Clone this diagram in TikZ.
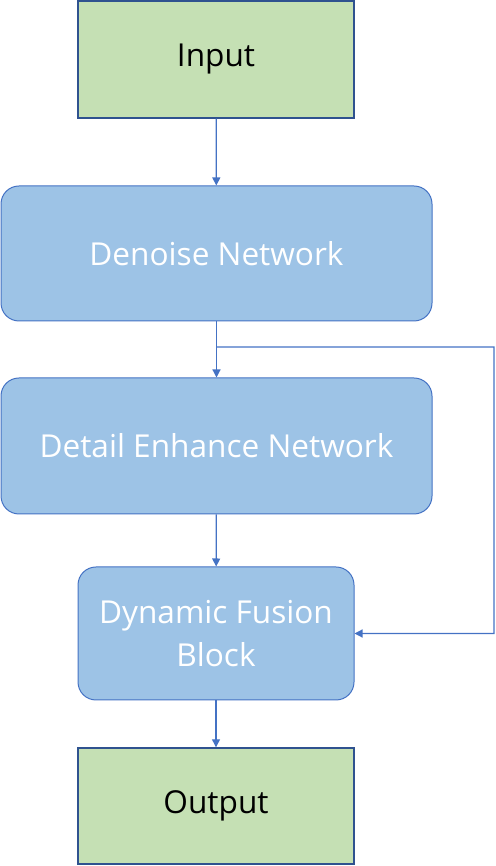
\documentclass[tikz,border=0pt]{standalone}
\usepackage{fontspec}
\setmainfont{Open Sans}
\usetikzlibrary{arrows.meta,calc}
\definecolor{iofill}{HTML}{C5E0B4}
\definecolor{iodraw}{HTML}{2F528F}
\definecolor{netfill}{HTML}{9DC3E6}
\definecolor{netdraw}{HTML}{4472C4}
\tikzset{
  iobox/.style={rectangle,draw=iodraw,fill=iofill,line width=0.7pt,text=black,align=center},
  netbox/.style={rectangle,rounded corners=9pt,draw=netdraw,fill=netfill,line width=0.5pt,text=white,align=center},
  flow/.style={draw=netdraw,line width=0.6pt,-{Triangle[length=4pt,width=4pt]}}
}

\begin{document}
\begin{tikzpicture}[x=0.5pt,y=0.5pt,every node/.style={font=\fontsize{15.8}{21.5}\selectfont}]
  \useasboundingbox (0,0) rectangle (496,866);
  \node[iobox,minimum width=138pt,minimum height=58.5pt] (in) at (216,806.5) {Input};
  \node[netbox,minimum width=215.5pt,minimum height=67.5pt] (den) at (216.5,612.5) {Denoise Network};
  \node[netbox,minimum width=215.5pt,minimum height=68pt] (det) at (216.5,420) {Detail Enhance Network};
  \node[netbox,minimum width=138pt,minimum height=66.5pt] (fus) at (216,232.5) {Dynamic Fusion\\Block};
  \node[iobox,minimum width=138pt,minimum height=58pt] (out) at (216,60) {Output};
  \draw[flow] (in) -- (den);
  \draw[flow] (den) -- (det);
  \draw[flow] (det) -- (fus);
  \draw[flow] (fus) -- (out);
  % skip path round the enhance network
  \coordinate (split) at ($(den.south)!0.456!(det.north)$);
  \coordinate (rt) at (494,519);
  \draw[flow] (split) -- (rt) |- (fus.east);
\end{tikzpicture}
\end{document}
